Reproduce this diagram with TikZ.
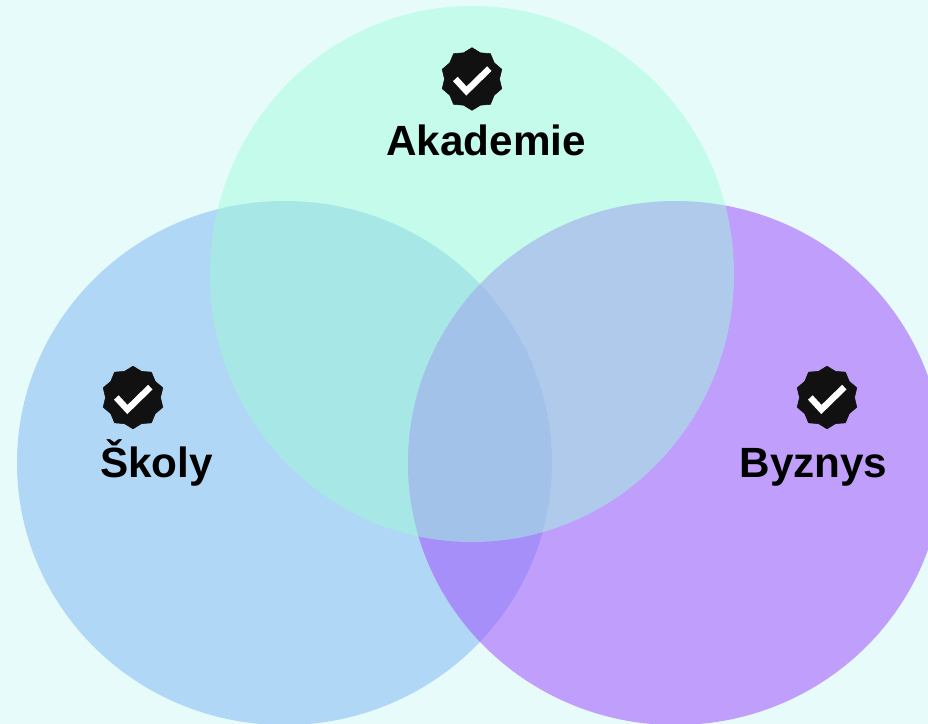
\documentclass[tikz,border=0pt]{standalone}
\usepackage{fontspec}
\setmainfont{Liberation Sans}
\usetikzlibrary{shapes.geometric}
\definecolor{bgc}{RGB}{230,251,250}
\definecolor{bluec}{RGB}{176,215,245}
\definecolor{purplec}{RGB}{192,158,252}
\definecolor{bothc}{RGB}{167,143,249}
\definecolor{greenc}{RGB}{159,251,217}
\definecolor{badgec}{RGB}{17,17,17}
\tikzset{
  px/.style={x=0.75pt,y=-0.75pt},
  setname/.style={font=\fontsize{31.7pt}{36pt}\selectfont\bfseries,text=black,anchor=base,inner sep=0pt},
  badgemark/.style={star,star points=10,star point ratio=1.14,minimum size=47pt,inner sep=0pt,
    fill=badgec,draw=badgec,line width=0.4pt,line join=round},
  tickline/.style={draw=white,line width=4.8pt,line cap=butt,line join=miter}
}
\newcommand{\checkmk}[1]{%
  \draw[tickline] ([shift={(-12.5pt,0pt)}]#1.center) -- ([shift={(-4.2pt,-9pt)}]#1.center) -- ([shift={(13pt,7.8pt)}]#1.center);}
\begin{document}
\begin{tikzpicture}[px]
\useasboundingbox (0,0) rectangle (928,724);
\clip (0,0) rectangle (928,724);
\fill[bgc] (0,0) rectangle (928,724);
\fill[bluec] (284.5,463) ellipse [x radius=267.5,y radius=262];
\fill[purplec] (675.5,463) ellipse [x radius=267.5,y radius=262];
\begin{scope}
\clip (284.5,463) ellipse [x radius=267.5,y radius=262];
\fill[bothc] (675.5,463) ellipse [x radius=267.5,y radius=262];
\end{scope}
\fill[greenc,fill opacity=0.48] (472,274) ellipse [x radius=262,y radius=268];
\node[badgemark] (badgeA) at (472,79) {};
\node[badgemark] (badgeS) at (133,397.5) {};
\node[badgemark] (badgeB) at (827,397.5) {};
\checkmk{badgeA}
\checkmk{badgeS}
\checkmk{badgeB}
\node[setname] (akademie) at (486,155.5) {Akademie};
\node[setname] (skoly) at (156.5,477.5) {Školy};
\node[setname] (byznys) at (813.5,477.5) {Byznys};
\end{tikzpicture}
\end{document}
